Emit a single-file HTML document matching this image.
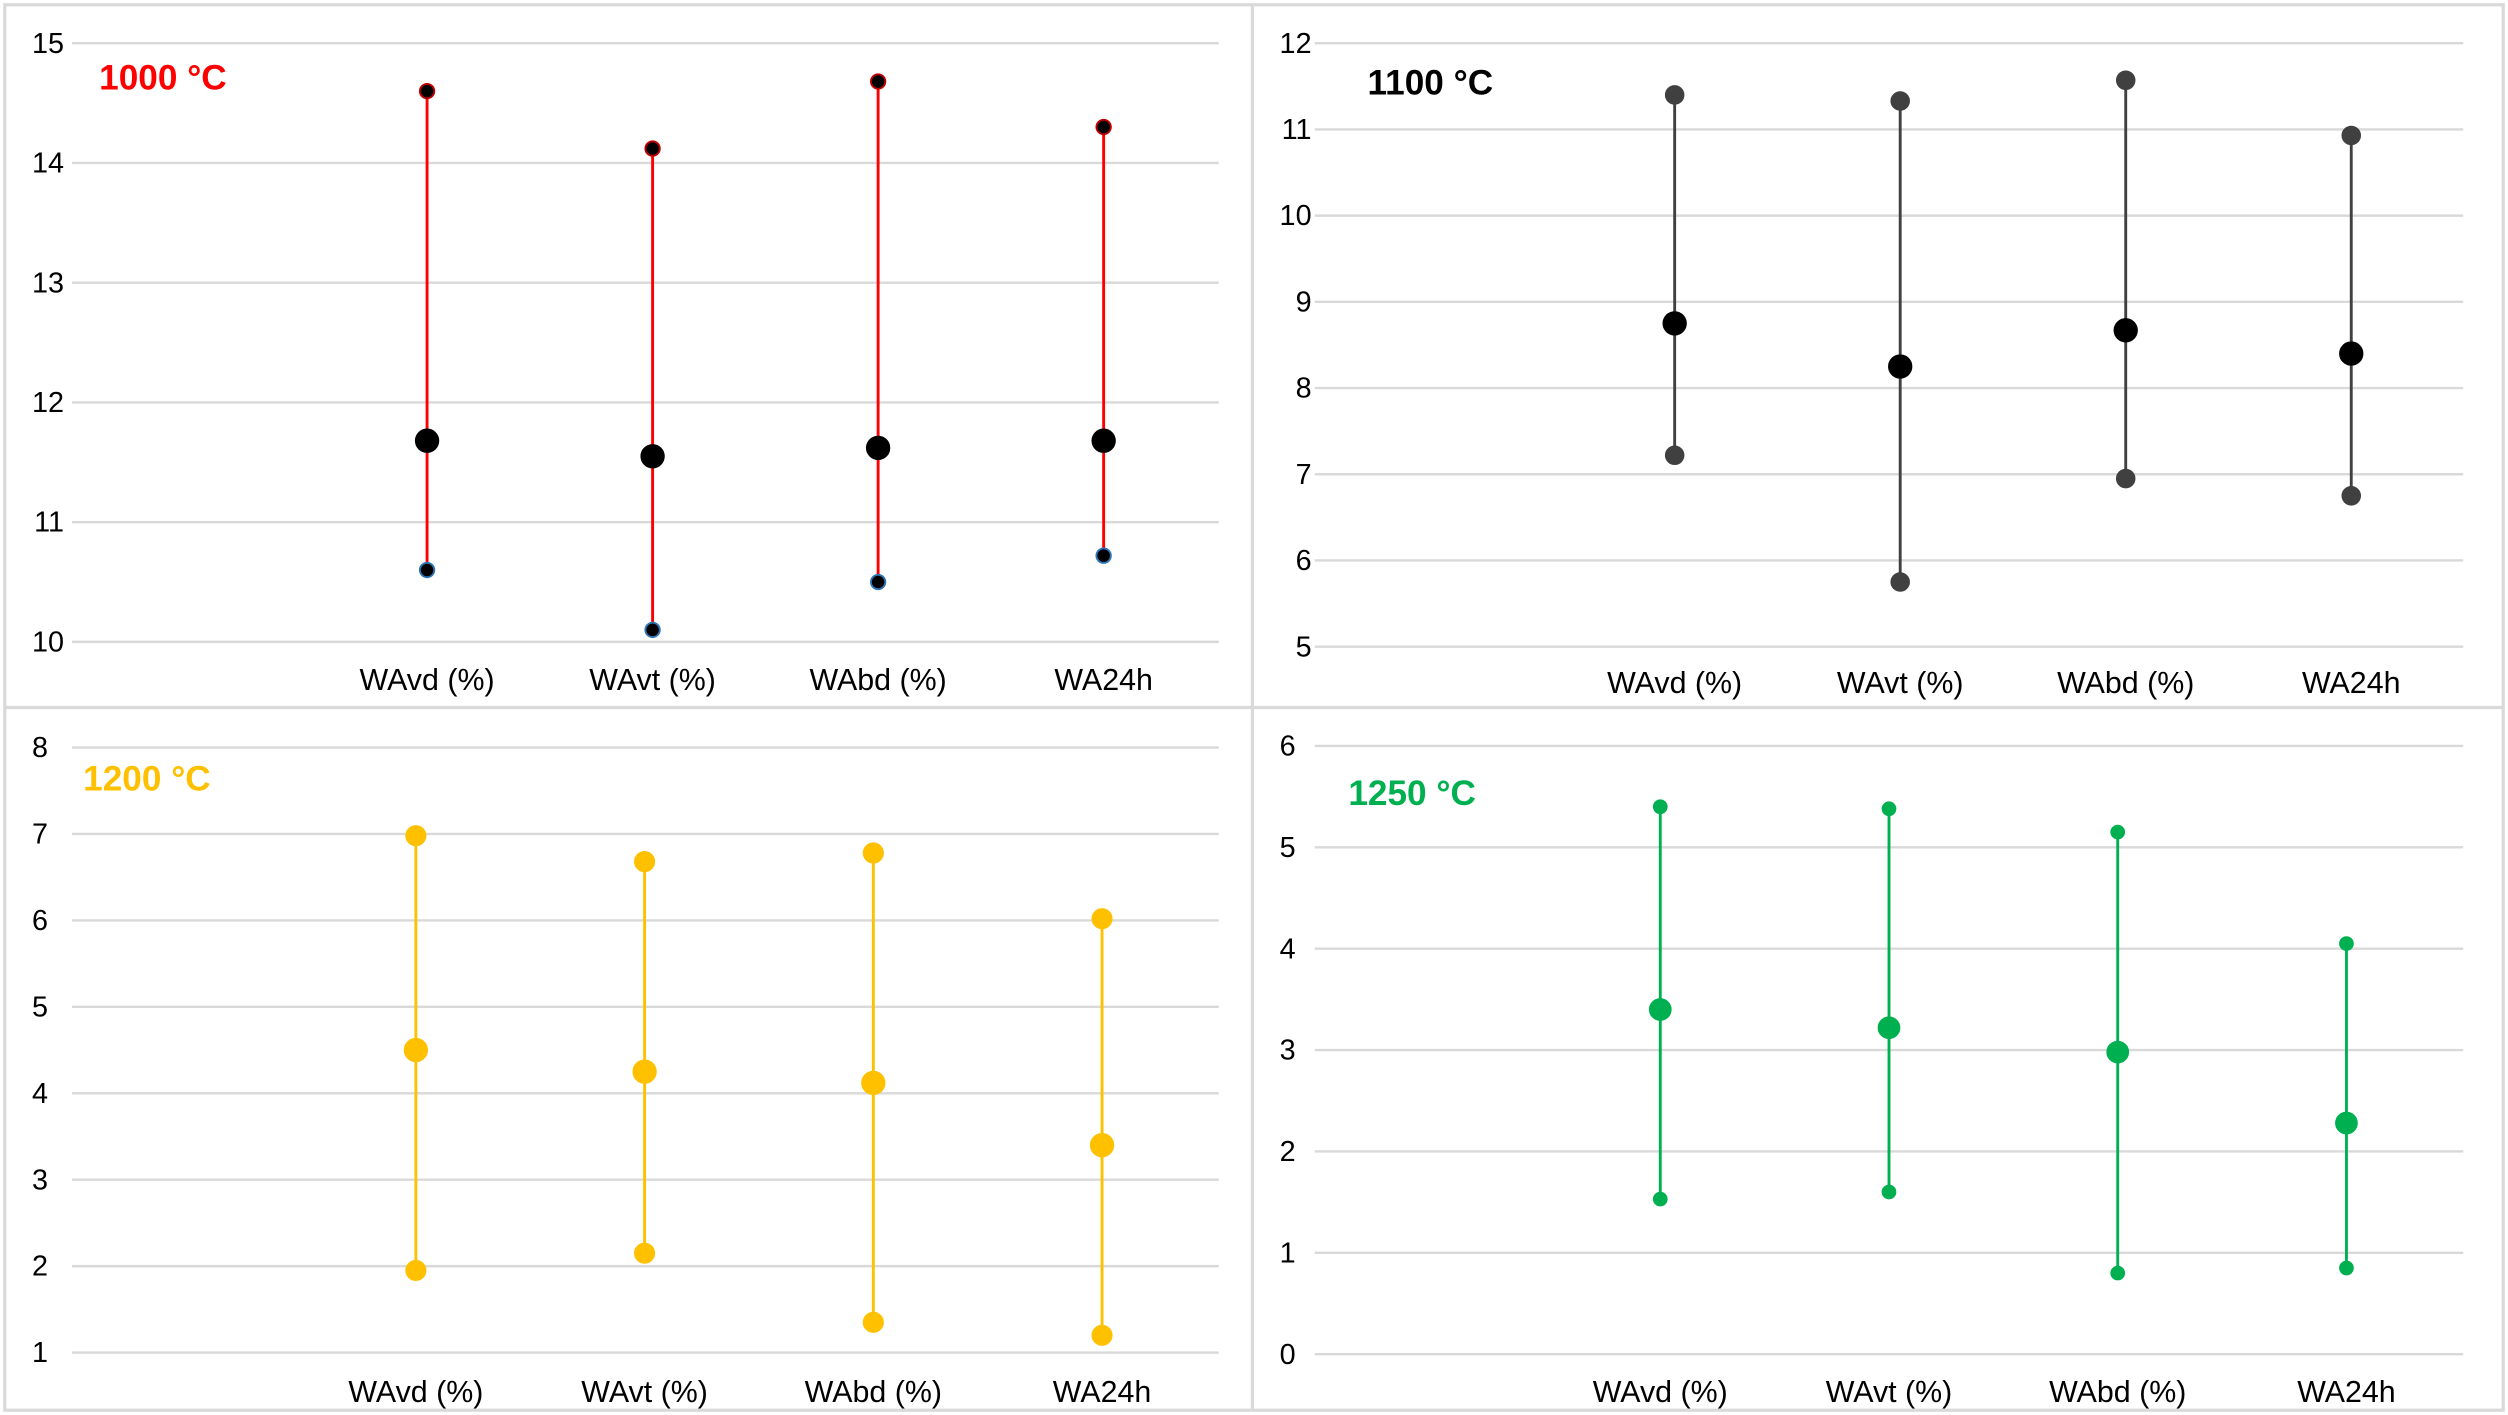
<!DOCTYPE html>
<html><head><meta charset="utf-8"><style>
html,body{margin:0;padding:0;background:#fff;}
svg{display:block;}
text{font-family:"Liberation Sans",Arial,sans-serif;}
</style></head><body>
<svg id="chart" width="2508" height="1415" viewBox="0 0 1568 884" preserveAspectRatio="none" xmlns="http://www.w3.org/2000/svg">
<rect x="0" y="0" width="1568" height="884" fill="#fff"/>
<rect x="3" y="3" width="1562" height="878" fill="none" stroke="#d9d9d9" stroke-width="2"/>
<line x1="783" y1="3" x2="783" y2="881" stroke="#d9d9d9" stroke-width="2"/>
<line x1="3" y1="442" x2="1565" y2="442" stroke="#d9d9d9" stroke-width="2"/>
<g id="panels"></g>
</svg>
<script>
const categories = ["WAvd (%)", "WAvt (%)", "WAbd (%)", "WA24h"];
const p1Top = [14.6, 14.12, 14.68, 14.3];
const p1Mean = [11.68, 11.55, 11.62, 11.68];
const p1Low = [10.6, 10.1, 10.5, 10.72];
const p2Top = [11.4, 11.33, 11.57, 10.93];
const p2Mean = [8.75, 8.25, 8.67, 8.4];
const p2Low = [7.22, 5.75, 6.95, 6.75];
const p3Top = [6.98, 6.68, 6.78, 6.02];
const p3Mean = [4.5, 4.25, 4.12, 3.4];
const p3Low = [1.95, 2.15, 1.35, 1.2];
const p4Top = [5.4, 5.38, 5.15, 4.05];
const p4Mean = [3.4, 3.22, 2.98, 2.28];
const p4Low = [1.53, 1.6, 0.8, 0.85];
const p1Ticks = [10, 11, 12, 13, 14, 15];
const p2Ticks = [5, 6, 7, 8, 9, 10, 11, 12];
const p3Ticks = [1, 2, 3, 4, 5, 6, 7, 8];
const p4Ticks = [0, 1, 2, 3, 4, 5, 6];

const NS = "http://www.w3.org/2000/svg";
const root = document.getElementById("panels");
function mk(tag, attrs, parent) {
  const e = document.createElementNS(NS, tag);
  for (const k in attrs) e.setAttribute(k, attrs[k]);
  parent.appendChild(e);
  return e;
}
const panels = [
  {name:"panel-1000c", title:"1000 °C", tcol:"#ff0000", tx:62, ty:56, top:p1Top, mean:p1Mean, low:p1Low, ticks:p1Ticks,
   yTop:27, yBot:401, gx1:45, gx2:762, lx:40, cx0:267, cx3:690, labY:431, line:"#ff0000",
   topS:{r:4.5,f:"#000",s:"#c00000"}, meanS:{r:7,f:"#000",s:"#000"}, lowS:{r:4.5,f:"#000",s:"#2e75b6"}},
  {name:"panel-1100c", title:"1100 °C", tcol:"#000", tx:855, ty:59, top:p2Top, mean:p2Mean, low:p2Low, ticks:p2Ticks,
   yTop:27, yBot:404, gx1:822, gx2:1540, lx:820, cx0:1047, cx3:1470, labY:433, line:"#404040",
   topS:{r:5.5,f:"#404040",s:"#404040"}, meanS:{r:7,f:"#000",s:"#000"}, lowS:{r:5.5,f:"#404040",s:"#404040"}},
  {name:"panel-1200c", title:"1200 °C", tcol:"#ffc000", tx:52, ty:494, top:p3Top, mean:p3Mean, low:p3Low, ticks:p3Ticks,
   yTop:467, yBot:845, gx1:45, gx2:762, lx:30, cx0:260, cx3:689, labY:876, line:"#ffc000",
   topS:{r:6,f:"#ffc000",s:"#ffc000"}, meanS:{r:7,f:"#ffc000",s:"#ffc000"}, lowS:{r:6,f:"#ffc000",s:"#ffc000"}},
  {name:"panel-1250c", title:"1250 °C", tcol:"#00b050", tx:843, ty:503, top:p4Top, mean:p4Mean, low:p4Low, ticks:p4Ticks,
   yTop:466, yBot:846, gx1:822, gx2:1540, lx:810, cx0:1038, cx3:1467, labY:876, line:"#00b050",
   topS:{r:4,f:"#00b050",s:"#00b050"}, meanS:{r:6.5,f:"#00b050",s:"#00b050"}, lowS:{r:4,f:"#00b050",s:"#00b050"}}
];
panels.forEach(p => {
  const g = mk("g", {}, root);
  
  
  const tmin = p.ticks[0], tmax = p.ticks[p.ticks.length-1];
  const yS = v => p.yBot - (v - tmin) / (tmax - tmin) * (p.yBot - p.yTop);
  const xS = i => p.cx0 + i * (p.cx3 - p.cx0) / (categories.length - 1);
  p.ticks.forEach(t => {
    const l = mk("line", {x1:p.gx1, x2:p.gx2, y1:yS(t), y2:yS(t), stroke:"#d9d9d9", "stroke-width":1.5}, g);
    
    
    const tx = mk("text", {x:p.lx, y:yS(t)+6, "text-anchor":"end", "font-size":18, fill:"#000"}, g);
    tx.textContent = t;
    
    
  });
  const title = mk("text", {x:p.tx, y:p.ty, "font-size":22, "font-weight":"bold", fill:p.tcol}, g);
  title.textContent = p.title;
  
  
  categories.forEach((c, i) => {
    const x = xS(i);
    const lab = mk("text", {x:x, y:p.labY, "text-anchor":"middle", "font-size":19, fill:"#000"}, g);
    lab.textContent = c;
    
    
    const ln = mk("line", {x1:x, x2:x, y1:yS(p.top[i]), y2:yS(p.low[i]), stroke:p.line, "stroke-width":1.8}, g);
    
    
    [[p.top[i], p.topS, 'max-point'], [p.low[i], p.lowS, 'min-point'], [p.mean[i], p.meanS, 'mean-point']].forEach(([v, s, n]) => {
      const ci = mk("circle", {cx:x, cy:yS(v), r:s.r, fill:s.f, stroke:s.s, "stroke-width":1.2}, g);
      
      
    });
  });
});
</script>
</body></html>
